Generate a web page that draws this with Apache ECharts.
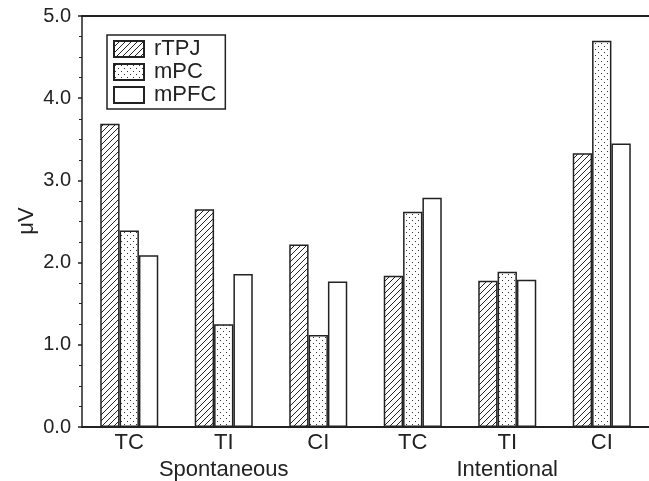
<!DOCTYPE html>
<html>
<head>
<meta charset="utf-8">
<script src="https://cdn.jsdelivr.net/npm/echarts@6/dist/echarts.min.js"></script>
<style>html,body{margin:0;padding:0;background:#fff;}#c{width:649px;height:481px;}</style>
</head>
<body>
<div id="c"></div>
<script>
const categories = ['TC', 'TI', 'CI', 'TC', 'TI', 'CI'];
const groups = ['Spontaneous', 'Intentional'];
const seriesNames = ['rTPJ', 'mPC', 'mPFC'];
const rTPJ = [3.69, 2.65, 2.22, 1.84, 1.78, 3.33];
const mPC = [2.39, 1.25, 1.12, 2.62, 1.89, 4.70];
const mPFC = [2.09, 1.86, 1.77, 2.79, 1.79, 3.45];
const yTicks = [0, 1, 2, 3, 4, 5];
const yTitle = 'μV';

function hatch() {
  const c = document.createElement('canvas');
  c.width = 6; c.height = 6;
  const g = c.getContext('2d');
  g.fillStyle = '#fff'; g.fillRect(0, 0, 6, 6);
  g.strokeStyle = '#222'; g.lineWidth = 1;
  g.beginPath();
  g.moveTo(-1, 7); g.lineTo(7, -1);
  g.moveTo(-4, 4); g.lineTo(4, -4);
  g.moveTo(2, 10); g.lineTo(10, 2);
  g.stroke();
  return c;
}
function dots() {
  const c = document.createElement('canvas');
  c.width = 6; c.height = 6;
  const g = c.getContext('2d');
  g.fillStyle = '#fff'; g.fillRect(0, 0, 6, 6);
  g.fillStyle = '#333';
  g.fillRect(1, 1, 1, 1);
  g.fillRect(4, 4, 1, 1);
  return c;
}
const fills = [
  { image: hatch(), repeat: 'repeat' },
  { image: dots(), repeat: 'repeat' },
  '#ffffff'
];
const dataSets = [rTPJ, mPC, mPFC];
const FONT = 'Liberation Sans, Arial, sans-serif';
const ink = '#222';

const chart = echarts.init(document.getElementById('c'), null, { renderer: 'canvas' });
chart.setOption({
  animation: false,
  backgroundColor: '#fff',
  textStyle: { fontFamily: FONT, color: ink },
  grid: { left: 82, right: 0, top: 16, bottom: 54 },
  legend: {
    left: 107, top: 35, orient: 'vertical',
    icon: 'rect', itemWidth: 30, itemHeight: 16, itemGap: 1,
    padding: [3, 9, 3, 6],
    borderColor: ink, borderWidth: 1.5,
    textStyle: { fontSize: 22, color: ink, fontFamily: FONT, padding: [0, 0, 0, 5] },
    data: seriesNames
  },
  graphic: [{
    type: 'text', x: 27, y: 221, rotation: Math.PI / 2,
    style: { text: yTitle, fontSize: 22, fontFamily: FONT, fill: ink, align: 'center', verticalAlign: 'middle' }
  }],
  xAxis: [
    {
      type: 'category', data: categories, position: 'bottom',
      axisLine: { lineStyle: { color: ink, width: 2 } },
      axisTick: { show: false },
      axisLabel: { fontSize: 22, color: ink, margin: 5, fontFamily: FONT }
    },
    {
      type: 'category', data: groups, position: 'bottom', offset: 27,
      axisLine: { show: false }, axisTick: { show: false },
      axisLabel: { fontSize: 22, color: ink, margin: 5, fontFamily: FONT }
    },
    {
      type: 'category', data: categories, position: 'top',
      axisLine: { lineStyle: { color: ink, width: 2 } },
      axisTick: { show: false }, axisLabel: { show: false }
    }
  ],
  yAxis: {
    type: 'value', min: yTicks[0], max: yTicks[yTicks.length - 1], interval: 1,
    axisLine: { show: true, lineStyle: { color: ink, width: 1.5 } },
    axisTick: { show: true, inside: false, length: 4, lineStyle: { color: ink, width: 1.5 } },
    minorTick: { show: true, splitNumber: 4, length: 3, lineStyle: { color: ink, width: 1 } },
    splitLine: { show: false },
    axisLabel: { fontSize: 20, color: ink, margin: 11, fontFamily: FONT, formatter: v => v.toFixed(1) }
  },
  series: seriesNames.map((n, i) => ({
    name: n, type: 'bar', xAxisIndex: 0,
    data: dataSets[i],
    barGap: '0%', barCategoryGap: '38.6%',
    itemStyle: { color: fills[i], borderColor: ink, borderWidth: 1.5 }
  }))
});
</script>
</body>
</html>
